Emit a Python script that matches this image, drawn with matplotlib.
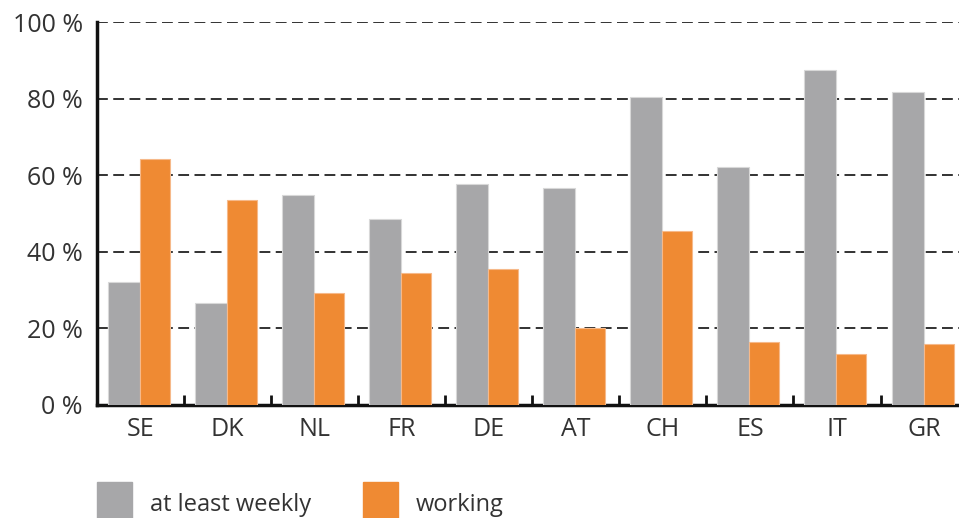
import numpy as np
import matplotlib
matplotlib.use("Agg")
import matplotlib.pyplot as plt
from matplotlib.patches import Patch

countries = ["SE", "DK", "NL", "FR", "DE", "AT", "CH", "ES", "IT", "GR"]
weekly = [32.1, 26.5, 54.7, 48.6, 57.6, 56.6, 80.5, 62.2, 87.6, 81.8]
working = [64.2, 53.4, 29.3, 34.5, 35.5, 19.9, 45.3, 16.3, 13.1, 15.8]

gray = "#a7a7a9"
orange = "#ef8a33"
txt = "#333333"

plt.rcParams["font.family"] = ["Open Sans", "DejaVu Sans"]

fig = plt.figure(figsize=(9.59, 5.18), dpi=100)
# the right end of the plot runs past the figure edge, as in the source
ax = fig.add_axes([0.101, 0.219, 0.908, 0.738])

x = np.arange(len(countries))
ax.bar(x - 0.19, weekly, width=0.368, color=gray, edgecolor="#d8d8d8", linewidth=0.8, zorder=3)
ax.bar(x + 0.166, working, width=0.344, color=orange, edgecolor="#f6b98a", linewidth=0.8, zorder=3)

ax.set_xlim(-0.5, 9.5)
ax.set_ylim(0, 100)
ax.set_yticks([0, 20, 40, 60, 80, 100])
ax.set_yticklabels([f"{v} %" for v in [0, 20, 40, 60, 80, 100]], fontsize=18, color=txt)
ax.tick_params(axis="y", length=0, pad=10)
ax.set_xticks(x)
ax.set_xticklabels(countries, fontsize=18, color=txt)
ax.tick_params(axis="x", which="major", length=0, pad=9)
ax.set_xticks(np.arange(0.5, 9.5, 1), minor=True)
ax.tick_params(axis="x", which="minor", direction="in", length=7, width=2, color="#111111")

for v in [20, 40, 60, 80, 100]:
    ax.axhline(v, color="#222222", linestyle=(0, (6, 3)), linewidth=1.3, zorder=1)

for s in ["top", "right"]:
    ax.spines[s].set_visible(False)
ax.spines["left"].set_linewidth(2.5)
ax.spines["bottom"].set_linewidth(2.5)
ax.spines["left"].set_color("#111111")
ax.spines["bottom"].set_color("#111111")

handles = [Patch(color=gray), Patch(color=orange)]
fig.legend(handles, ["at least weekly", "working"], loc="upper left",
           bbox_to_anchor=(0.101, 0.0695), ncol=2, frameon=False, fontsize=17,
           handlelength=1.48, handleheight=2.5, handletextpad=0.76,
           columnspacing=2.2, labelcolor=txt, borderaxespad=0, borderpad=0)

fig.savefig("out.png", dpi=100)
